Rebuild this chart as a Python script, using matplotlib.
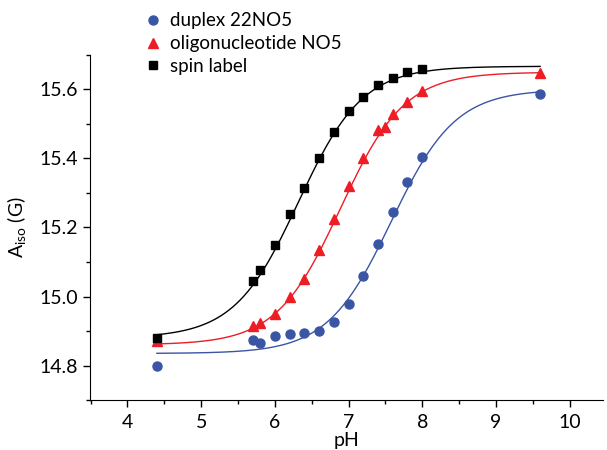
import numpy as np
import matplotlib.pyplot as plt
from matplotlib.ticker import MultipleLocator

plt.rcParams['font.family'] = ['Lato', 'DejaVu Sans']
plt.rcParams['mathtext.fontset'] = 'custom'
plt.rcParams['mathtext.rm'] = 'Lato'

# measured points
ph_duplex = [4.4, 5.7, 5.8, 6.0, 6.2, 6.4, 6.6, 6.8, 7.0, 7.2, 7.4, 7.6, 7.8, 8.0, 9.6]
a_duplex = [14.80, 14.874, 14.864, 14.886, 14.89, 14.894, 14.899, 14.927, 14.978,
            15.059, 15.151, 15.244, 15.333, 15.405, 15.586]

ph_oligo = [4.4, 5.7, 5.8, 6.0, 6.2, 6.4, 6.6, 6.8, 7.0, 7.2, 7.4, 7.5, 7.6, 7.8, 8.0, 9.6]
a_oligo = [14.872, 14.914, 14.924, 14.95, 14.998, 15.052, 15.136, 15.225, 15.32,
           15.40, 15.481, 15.49, 15.53, 15.564, 15.595, 15.648]

ph_spin = [4.4, 5.7, 5.8, 6.0, 6.2, 6.4, 6.6, 6.8, 7.0, 7.2, 7.4, 7.6, 7.8, 8.0]
a_spin = [14.88, 15.046, 15.078, 15.149, 15.238, 15.314, 15.40, 15.476, 15.537,
          15.578, 15.612, 15.633, 15.65, 15.659]

# Henderson-Hasselbalch fit parameters: (A low, A high, pKa)
fit_duplex = (14.835, 15.60, 7.58)
fit_oligo = (14.86, 15.65, 6.89)
fit_spin = (14.88, 15.667, 6.32)


def hh(ph, lo, hi, pka):
    return lo + (hi - lo) / (1 + 10 ** (pka - ph))


blue = '#3b55a5'
red = '#ee1c25'

fig = plt.figure(figsize=(6.07, 4.5), dpi=100)
ax = fig.add_axes([0.148, 0.111, 0.845, 0.767])

xf = np.linspace(4.4, 9.6, 300)
ax.plot(xf, hh(xf, *fit_duplex), color=blue, lw=1.0)
ax.plot(xf, hh(xf, *fit_oligo), color=red, lw=1.0)
ax.plot(xf, hh(xf, *fit_spin), color='black', lw=1.0)

ax.plot(ph_duplex, a_duplex, 'o', color=blue, ms=6.5, ls='none', label='duplex 22NO5')
ax.plot(ph_oligo, a_oligo, '^', color=red, ms=7, ls='none', label='oligonucleotide NO5')
ax.plot(ph_spin, a_spin, 's', color='black', ms=5.5, ls='none', label='spin label')

ax.set_xlim(3.49, 10.45)
ax.set_ylim(14.7, 15.7)
ax.xaxis.set_major_locator(MultipleLocator(1))
ax.xaxis.set_minor_locator(MultipleLocator(0.5))
ax.yaxis.set_major_locator(MultipleLocator(0.2))
ax.yaxis.set_minor_locator(MultipleLocator(0.1))
ax.yaxis.set_major_formatter(plt.FormatStrFormatter('%.1f'))

ax.spines['top'].set_visible(False)
ax.spines['right'].set_visible(False)
ax.tick_params(which='major', direction='out', length=5, width=1, labelsize=14)
ax.tick_params(axis='x', which='major', pad=5)
ax.tick_params(which='minor', direction='out', length=3, width=1)

ax.set_xlabel('pH', fontsize=14, labelpad=1)
ax.set_ylabel(r'$\mathregular{A_{iso}}$ (G)', fontsize=14, labelpad=8)

ax.legend(loc='upper left', bbox_to_anchor=(0.225, 0.989), bbox_transform=fig.transFigure,
          frameon=False, fontsize=13.5, handlelength=1.0, handletextpad=0.4,
          labelspacing=0.3, borderaxespad=0)

plt.savefig('out.png', dpi=100)
